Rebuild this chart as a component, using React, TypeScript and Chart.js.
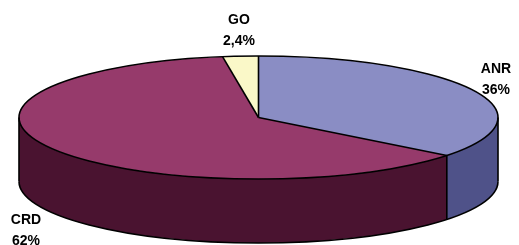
import { useEffect, useRef } from "react";
import { Chart, registerables } from "chart.js";

Chart.register(...registerables);

// ---- data ----
const categories = ["ANR", "CRD", "GO"];
const shares = [35.6, 62, 2.4];
const percentLabels = ["36%", "62%", "2,4%"];

// ---- styles ----
const topColors = ["#8A8DC4", "#963A6B", "#FAF8C8"];
const sideColors = ["#4F5289", "#4A1330", "#C8C6A0"];

// ---- layout (3D ellipse geometry, label anchors) ----
const CX = 258.5;
const CY = 117.5;
const RX = 239.5;
const RY = 61.5;
const DEPTH = 64;
const LABEL_ANCHORS: [number, number][] = [
  [496, 73],
  [26, 224],
  [239, 24],
];
const LINE_GAP = 20.5;
const FONT = 'bold 14px "Liberation Sans", Arial, sans-serif';

const pie3d = {
  id: "pie3d",
  beforeDatasetsDraw(chart: any) {
    const ctx = chart.ctx as CanvasRenderingContext2D;
    const arcs = chart.getDatasetMeta(0).data as any[];
    if (!arcs.length) return;
    // side walls (front half only: angles 0..PI)
    arcs.forEach((arc, i) => {
      const lo = Math.max(arc.startAngle, 0);
      const hi = Math.min(arc.endAngle, Math.PI);
      if (lo < hi) {
        ctx.save();
        ctx.beginPath();
        ctx.ellipse(CX, CY, RX, RY, 0, lo, hi);
        ctx.ellipse(CX, CY + DEPTH, RX, RY, 0, hi, lo, true);
        ctx.closePath();
        ctx.fillStyle = sideColors[i];
        ctx.fill();
        ctx.restore();
      }
    });
    const a0 = arcs[0];
    const R = a0.outerRadius;
    ctx.save();
    ctx.translate(CX, CY);
    ctx.scale(RX / R, RY / R);
    ctx.translate(-a0.x, -a0.y);
  },
  afterDatasetsDraw(chart: any) {
    const ctx = chart.ctx as CanvasRenderingContext2D;
    const arcs = chart.getDatasetMeta(0).data as any[];
    if (!arcs.length) return;
    ctx.restore();
    ctx.save();
    ctx.strokeStyle = "#000";
    ctx.lineWidth = 1.6;
    ctx.lineJoin = "round";
    // top outline
    ctx.beginPath();
    ctx.ellipse(CX, CY, RX, RY, 0, 0, Math.PI * 2);
    ctx.stroke();
    // bottom front outline
    ctx.beginPath();
    ctx.ellipse(CX, CY + DEPTH, RX, RY, 0, 0, Math.PI);
    ctx.stroke();
    // side edges
    ctx.beginPath();
    ctx.moveTo(CX + RX, CY);
    ctx.lineTo(CX + RX, CY + DEPTH);
    ctx.moveTo(CX - RX, CY);
    ctx.lineTo(CX - RX, CY + DEPTH);
    ctx.stroke();
    // slice boundaries
    arcs.forEach((arc) => {
      const a = arc.startAngle;
      const px = CX + RX * Math.cos(a);
      const py = CY + RY * Math.sin(a);
      ctx.beginPath();
      ctx.moveTo(CX, CY);
      ctx.lineTo(px, py);
      if (Math.sin(a) > 0.001) {
        ctx.lineTo(px, py + DEPTH);
      }
      ctx.stroke();
    });
    ctx.restore();
  },
  afterDraw(chart: any) {
    const ctx = chart.ctx as CanvasRenderingContext2D;
    ctx.save();
    ctx.font = FONT;
    ctx.fillStyle = "#000";
    ctx.textAlign = "center";
    ctx.textBaseline = "alphabetic";
    categories.forEach((c, i) => {
      const [x, y] = LABEL_ANCHORS[i];
      ctx.fillText(c, x, y);
      ctx.fillText(percentLabels[i], x, y + LINE_GAP);
    });
    ctx.restore();
  },
};

export default function App() {
  const ref = useRef<HTMLCanvasElement | null>(null);
  useEffect(() => {
    document.body.style.margin = "0";
    if (!ref.current) return;
    const chart = new Chart(ref.current, {
      type: "pie",
      data: {
        labels: categories,
        datasets: [
          {
            data: shares,
            backgroundColor: topColors,
            borderWidth: 0,
            clip: false as any,
          },
        ],
      },
      options: {
        animation: false,
        responsive: false,
        devicePixelRatio: 1,
        events: [],
        layout: { padding: 0 },
        plugins: {
          legend: { display: false },
          tooltip: { enabled: false },
        },
      },
      plugins: [pie3d],
    });
    return () => chart.destroy();
  }, []);
  return (
    <div style={{ position: "absolute", left: 0, top: 0, width: 519, height: 245, background: "#fff" }}>
      <canvas ref={ref} width={519} height={245} />
    </div>
  );
}
